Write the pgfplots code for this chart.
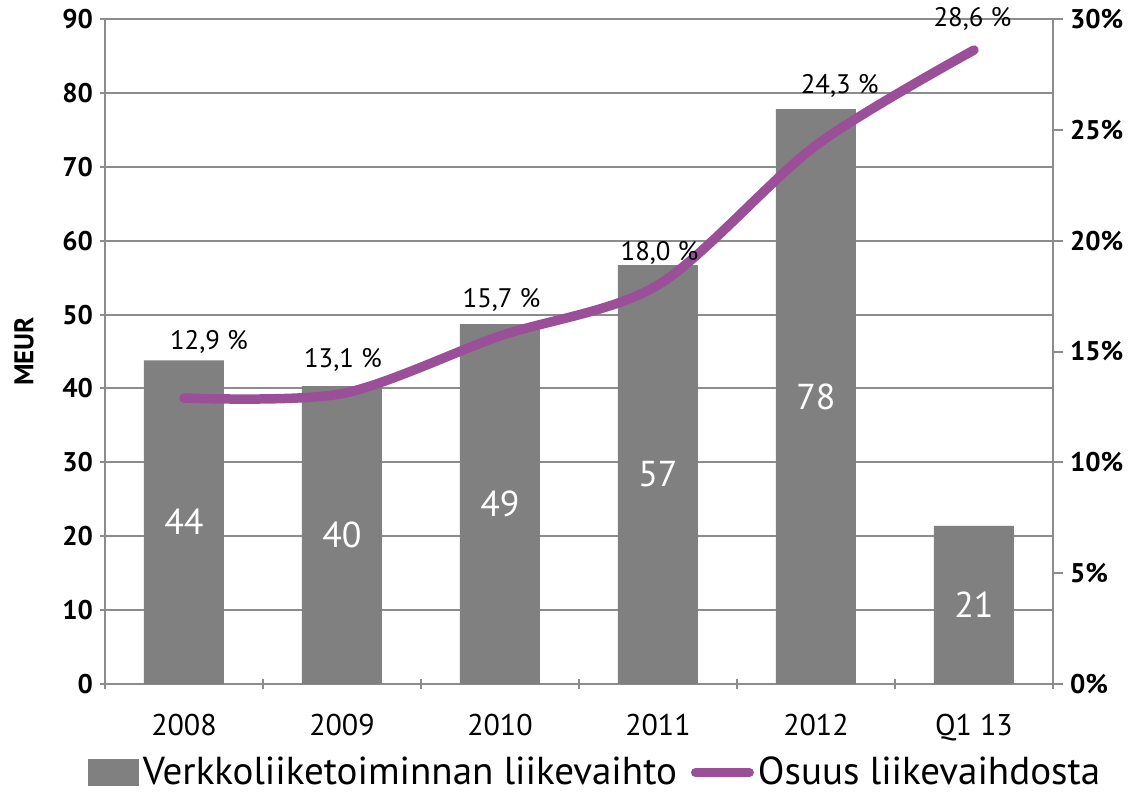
\documentclass[border=0pt]{standalone}
\usepackage{fontspec}
\setmainfont{PT Sans}
\usepackage{pgfplots}
\usepackage{pgfplotstable}
\pgfplotsset{compat=1.18}
\definecolor{barGray}{RGB}{128,128,128}
\definecolor{gridGray}{RGB}{140,140,140}
\definecolor{lineViolet}{RGB}{155,79,153}

% x = category index, v = MEUR, p = osuus (%)
\pgfplotstableread{
x v p
0 43.8 12.9
1 40.3 13.1
2 48.7 15.7
3 56.7 18.0
4 77.8 24.3
5 21.4 28.6
}\sales

\begin{document}
\begin{tikzpicture}
\pgfplotsset{
  chartbase/.style={
    width=474pt, height=332.5pt, scale only axis,
    xmin=-0.5, xmax=5.5,
    /pgf/number format/assume math mode=true,
    tick align=outside,
    major tick length=5pt, minor tick length=5pt,
    axis line style={gridGray, line width=1pt},
    every outer x axis line/.append style={-},
    every outer y axis line/.append style={-},
    tick style={gridGray, line width=1pt},
    y tick label style={font=\bfseries\fontsize{13.5}{16}\selectfont},
  }
}
\begin{axis}[chartbase,
  axis x line=bottom, axis y line=left,
  x axis line style={-}, y axis line style={-},
  ymin=0, ymax=90, ytick={0,10,...,90},
  ymajorgrids, grid style={gridGray, line width=1pt},
  xtick={0,...,5}, xticklabels={2008,2009,2010,2011,2012,Q1 13},
  minor xtick={-0.5,0.5,...,5.5},
  major x tick style={draw=none},
  x tick label style={font=\fontsize{15}{18}\selectfont, yshift=-9pt},
  ylabel={\bfseries MEUR},
  ylabel style={at={(rel axis cs:-0.0854,0.5)}, anchor=center,
    font=\fontsize{13.5}{16}\selectfont},
]
  \addplot[ybar, bar width=40pt, fill=barGray, draw=none] table[x=x, y=v]{\sales};
  \addplot[draw=none, point meta=explicit, nodes near coords={\pgfmathprintnumber[fixed,precision=0]{\pgfplotspointmeta}},
    every node near coord/.append style={anchor=center, text=white,
      font=\fontsize{18}{21}\selectfont}]
    table[x=x, y expr=\thisrow{v}/2, meta=v]{\sales};
\end{axis}

\begin{axis}[chartbase,
  axis y line*=right, axis x line=none,
  y axis line style={-},
  clip=false,
  ymin=0, ymax=30, ytick={0,5,...,30},
  yticklabel={\pgfmathprintnumber{\tick}\%},
  legend columns=2,
  legend style={draw=none, fill=none, at={(0.518,-0.133)}, anchor=center,
    font=\fontsize{19.5}{23}\selectfont, inner sep=1pt,
    /tikz/every even column/.append style={column sep=5pt}},
]
  \addlegendimage{legend image code/.code={\fill[barGray] (0pt,-6.5pt) rectangle (25pt,6.5pt);}}
  \addlegendentry{Verkkoliiketoiminnan liikevaihto}
  \addplot[lineViolet, line width=4.75pt, smooth, line cap=round, mark=none,
    legend image code/.code={\draw[lineViolet, line width=4.5pt, line cap=round] (2pt,0pt) -- (29pt,0pt);}]
    table[x=x, y=p]{\sales};
  \addlegendentry{Osuus liikevaihdosta}
  \begin{scope}[every node/.style={font=\fontsize{13.4}{16}\selectfont, inner sep=0pt}]
    \node at (axis cs:0.158,15.43) {12,9 \%};
    \node at (axis cs:1.006,14.62) {13,1 \%};
    \node at (axis cs:2.01,17.32) {15,7 \%};
    \node at (axis cs:3.01,19.44) {18,0 \%};
    \node at (axis cs:4.15,26.98) {24,3 \%};
    \node at (axis cs:4.99,30.0) {28,6 \%};
  \end{scope}
\end{axis}
\pgfresetboundingbox
\path (current axis.south west) ++(-52.5pt,-55pt) rectangle ++(565.5pt,397pt);
\end{tikzpicture}
\end{document}
